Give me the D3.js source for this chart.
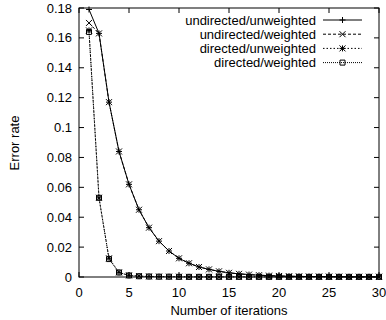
<!DOCTYPE html>
<html>
<head>
<meta charset="utf-8">
<script src="https://cdn.jsdelivr.net/npm/d3@7"></script>
<style>
  body { margin: 0; background: #fff; }
  svg text { font-family: "Liberation Sans", Arial, sans-serif; font-size: 13px; fill: #000; }
</style>
</head>
<body>
<svg id="chart" width="386" height="320"></svg>
<script>
// data
const iterations = d3.range(1, 31);
const undirUnweighted = [0.179, 0.163, 0.117, 0.084, 0.062, 0.045, 0.033, 0.024, 0.0174, 0.0125,
  0.0092, 0.0067, 0.0051, 0.0038, 0.0028, 0.0021, 0.0016, 0.0012, 0.0009, 0.0007,
  0.0005, 0.0004, 0.0003, 0.0003, 0.0002, 0.0002, 0.0001, 0.0001, 0.0001, 0.0001];
const undirWeighted = [0.170, 0.163, 0.117, 0.084, 0.062, 0.045, 0.033, 0.024, 0.0174, 0.0125,
  0.0092, 0.0067, 0.0051, 0.0038, 0.0028, 0.0021, 0.0016, 0.0012, 0.0009, 0.0007,
  0.0005, 0.0004, 0.0003, 0.0003, 0.0002, 0.0002, 0.0001, 0.0001, 0.0001, 0.0001];
const dirUnweighted = [0.165, 0.053, 0.0125, 0.0031, 0.0011, 0.0006, 0.0004, 0.0003, 0.0002, 0.0002,
  0.0001, 0.0001, 0.0001, 0.0001, 0.0001, 0.0001, 0.0001, 0.0001, 0.0001, 0.0001,
  0.0001, 0.0001, 0.0001, 0.0001, 0.0001, 0.0001, 0.0001, 0.0001, 0.0001, 0.0001];
const dirWeighted = [0.164, 0.053, 0.012, 0.003, 0.001, 0.0005, 0.0003, 0.0002, 0.0002, 0.0001,
  0.0001, 0.0001, 0.0001, 0.0001, 0.0001, 0.0001, 0.0001, 0.0001, 0.0001, 0.0001,
  0.0001, 0.0001, 0.0001, 0.0001, 0.0001, 0.0001, 0.0001, 0.0001, 0.0001, 0.0001];
const seriesNames = ["undirected/unweighted", "undirected/weighted", "directed/unweighted", "directed/weighted"];
const xTicks = [0, 5, 10, 15, 20, 25, 30];
const yTicks = [0, 0.02, 0.04, 0.06, 0.08, 0.1, 0.12, 0.14, 0.16, 0.18];

const svg = d3.select("#chart");
const x = d3.scaleLinear().domain([0, 30]).range([79, 379]);
const y = d3.scaleLinear().domain([0, 0.18]).range([277, 8]);

// styles per series
const styles = [
  { dash: null, marker: "plus" },
  { dash: "3,2", marker: "cross" },
  { dash: "1.5,2", marker: "star" },
  { dash: "1,1", marker: "box" }
];
const allData = [undirUnweighted, undirWeighted, dirUnweighted, dirWeighted];

// markers drawn as paths
function markerPath(type, cx, cy) {
  const s = 3;
  if (type == "plus") return `M${cx - s},${cy}H${cx + s}M${cx},${cy - s}V${cy + s}`;
  if (type == "cross") return `M${cx - s},${cy - s}L${cx + s},${cy + s}M${cx - s},${cy + s}L${cx + s},${cy - s}`;
  if (type == "star") return `M${cx - s},${cy}H${cx + s}M${cx},${cy - s}V${cy + s}M${cx - s},${cy - s}L${cx + s},${cy + s}M${cx - s},${cy + s}L${cx + s},${cy - s}`;
  return `M${cx - 2.5},${cy - 2.5}h5v5h-5Z`;
}

// frame + ticks (gnuplot style, inward, mirrored)
const g = svg.append("g");
xTicks.forEach(t => {
  g.append("line").attr("x1", x(t)).attr("x2", x(t)).attr("y1", y(0)).attr("y2", y(0) - 5).attr("stroke", "#000");
  g.append("line").attr("x1", x(t)).attr("x2", x(t)).attr("y1", y(0.18)).attr("y2", y(0.18) + 5).attr("stroke", "#000");
  g.append("text").attr("x", x(t)).attr("y", 297).attr("text-anchor", "middle").text(t);
});
yTicks.forEach(t => {
  g.append("line").attr("x1", x(0)).attr("x2", x(0) + 5).attr("y1", y(t)).attr("y2", y(t)).attr("stroke", "#000");
  g.append("line").attr("x1", x(30)).attr("x2", x(30) - 5).attr("y1", y(t)).attr("y2", y(t)).attr("stroke", "#000");
  g.append("text").attr("x", 72).attr("y", y(t) + 4.5).attr("text-anchor", "end").text(d3.format("~g")(t));
});

// series
const line = d3.line().x((d, i) => x(iterations[i])).y(d => y(d));
allData.forEach((vals, k) => {
  svg.append("path").datum(vals)
    .attr("d", line)
    .attr("fill", "none").attr("stroke", "#000").attr("stroke-width", 1)
    .attr("stroke-dasharray", styles[k].dash);
  svg.append("g").selectAll("path")
    .data(vals)
    .join("path")
    .attr("d", (d, i) => markerPath(styles[k].marker, x(iterations[i]), y(d)))
    .attr("fill", "none").attr("stroke", "#000").attr("stroke-width", 1);
});

svg.append("rect").attr("x", x(0)).attr("y", y(0.18))
  .attr("width", x(30) - x(0)).attr("height", y(0) - y(0.18))
  .attr("fill", "none").attr("stroke", "#000");

// legend
seriesNames.forEach((name, k) => {
  const ly = 20 + k * 14.2;
  svg.append("text").attr("x", 316).attr("y", ly + 4.5).attr("text-anchor", "end").text(name);
  svg.append("line").attr("x1", 323).attr("x2", 362).attr("y1", ly).attr("y2", ly)
    .attr("stroke", "#000").attr("stroke-dasharray", styles[k].dash);
  svg.append("path").attr("d", markerPath(styles[k].marker, 342.5, ly))
    .attr("fill", "none").attr("stroke", "#000");
});

// axis titles
svg.append("text").attr("x", 229).attr("y", 315).attr("text-anchor", "middle").text("Number of iterations");
svg.append("text").attr("transform", "translate(19,143) rotate(-90)").attr("text-anchor", "middle").text("Error rate");
</script>
</body>
</html>
